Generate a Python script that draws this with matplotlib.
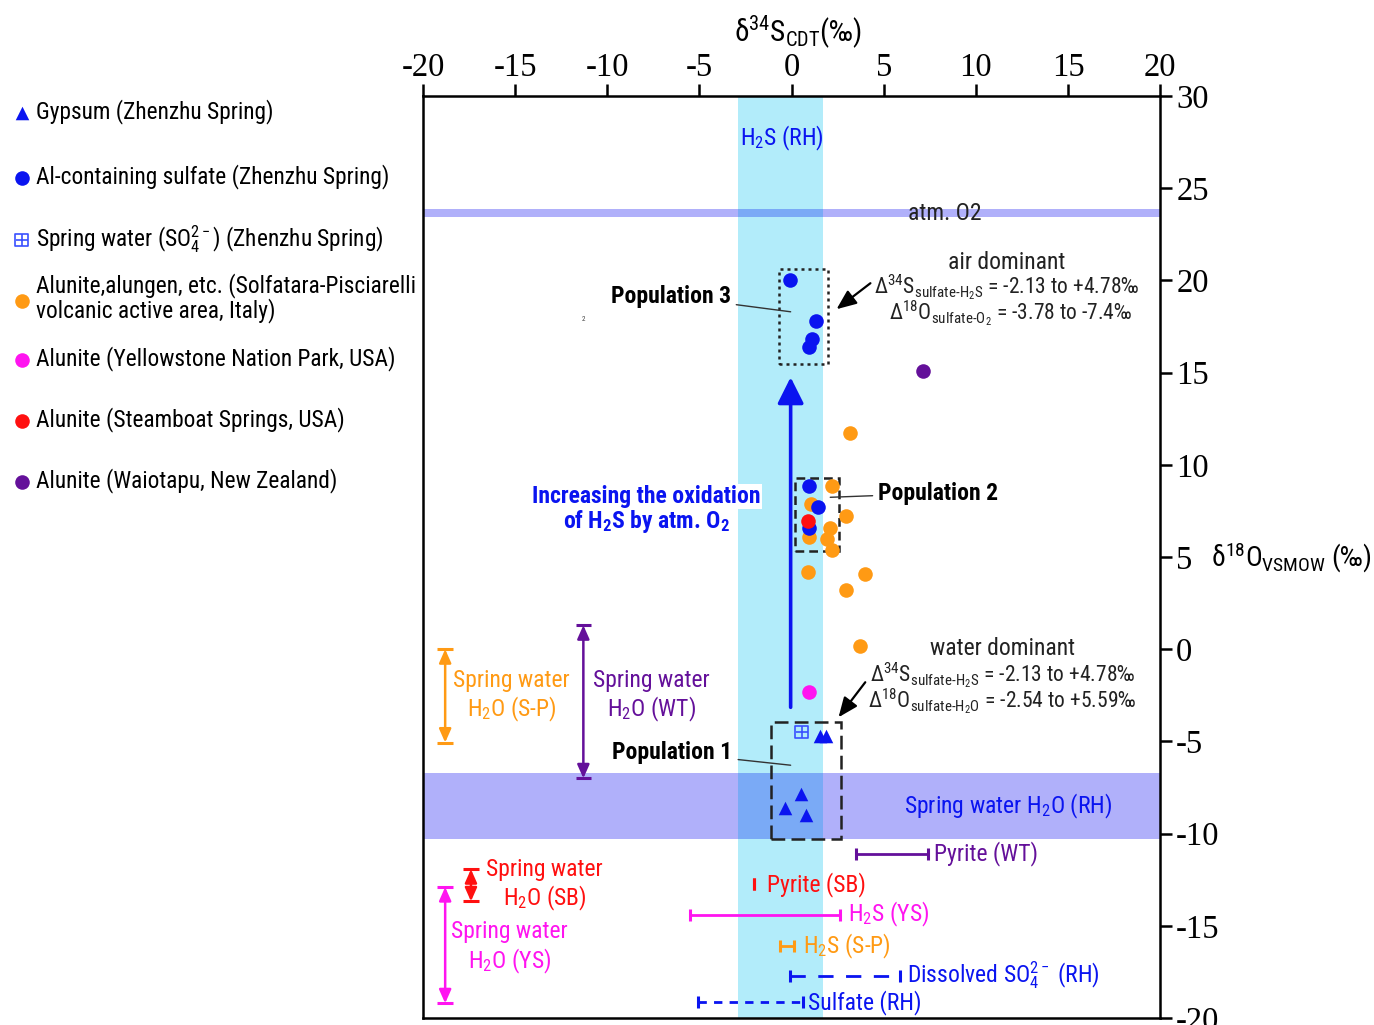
import matplotlib
matplotlib.use("Agg")
import matplotlib.pyplot as plt
import matplotlib.font_manager as fm
from matplotlib.patches import Rectangle, FancyArrowPatch
from matplotlib.legend_handler import HandlerTuple

_avail = {f.name for f in fm.fontManager.ttflist}
_cands = ['Liberation Sans Narrow', 'Arial Narrow', 'Roboto Condensed', 'PT Sans Narrow',
          'Archivo Narrow']
NARROW = next((c for c in _cands if c in _avail), None)
if NARROW is None:
    NARROW = 'Liberation Sans'
    K = 0.82
else:
    K = 1.0
SANS = [NARROW, 'DejaVu Sans']
SERIF = ['Liberation Serif', 'DejaVu Serif']
plt.rcParams['font.family'] = SANS
plt.rcParams['mathtext.fontset'] = 'custom'
plt.rcParams['mathtext.rm'] = NARROW
plt.rcParams['mathtext.it'] = NARROW + ':italic'
plt.rcParams['mathtext.bf'] = NARROW + ':bold'
plt.rcParams['axes.unicode_minus'] = False

# ---------------- data ----------------
BLUE = '#0a14f0'
ORANGE = '#ff9a14'
MAGENTA = '#ff14f0'
RED = '#ff1010'
PURPLE = '#64109a'
CYAN = '#b2ecfa'
LAV = '#b0b0fa'
OVER = '#7aaaf6'

gyp_x = [1.55, 1.85, 0.5, -0.33, 0.76]
gyp_y = [-4.7, -4.7, -7.83, -8.59, -8.98]

al_x = [-0.1, 1.3, 1.1, 0.95, 0.92, 1.46, 0.92]
al_y = [20.0, 17.8, 16.8, 16.4, 8.84, 7.7, 6.6]

sw_x = [0.55]
sw_y = [-4.5]

sp_x = [3.15, 2.22, 1.08, 2.98, 2.06, 1.95, 0.92, 2.22, 0.87, 3.96, 2.93, 3.74]
sp_y = [11.7, 8.84, 7.86, 7.2, 6.6, 6.0, 6.1, 5.4, 4.2, 4.1, 3.2, 0.16]

ys_x = [0.92]
ys_y = [-2.3]

sb_x = [0.87]
sb_y = [6.94]

wt_x = [7.15]
wt_y = [15.1]

legend_labels = [
    'Gypsum (Zhenzhu Spring)',
    'Al-containing sulfate (Zhenzhu Spring)',
    r'Spring water (SO$_4^{2-}$) (Zhenzhu Spring)',
    'Alunite,alungen, etc. (Solfatara-Pisciarelli\nvolcanic active area, Italy)',
    'Alunite (Yellowstone Nation Park, USA)',
    'Alunite (Steamboat Springs, USA)',
    'Alunite (Waiotapu, New Zealand)',
]
legend_rows_px = [112, 177, 239, 298, 359, 420, 481]   # vertical centres of legend rows

# bands
h2s_band = (-2.9, 1.7)          # x range, H2S (RH)
atm_band = (23.45, 23.9)        # y range, atm. O2
rh_water_band = (-10.3, -6.7)   # y range, Spring water H2O (RH)

# population boxes (x0, x1, y0, y1)
pop3_box = (-0.7, 2.0, 15.45, 20.6)
pop2_box = (0.16, 2.6, 5.31, 9.27)
pop1_box = (-1.14, 2.7, -10.3, -3.96)

# horizontal ranges (delta34S)
hr_labels = ['Pyrite (WT)', 'Pyrite (SB)', r'H$_2$S (YS)', r'H$_2$S (S-P)',
             r'Dissolved SO$_4^{2-}$ (RH)', 'Sulfate (RH)']
hr_lo = [3.5, -2.05, -5.5, -0.65, -0.1, -5.1]
hr_hi = [7.4, -2.05, 2.65, 0.15, 5.9, 0.6]
hr_y = [-11.1, -12.75, -14.4, -16.1, -17.7, -19.15]
hr_text_x = [7.75, -1.35, 3.05, 0.6, 6.25, 0.9]
hr_colors = [PURPLE, RED, MAGENTA, ORANGE, BLUE, BLUE]
hr_dash = [None, None, None, None, (0, (5.5, 4.5)), (0, (3.0, 2.6))]

# vertical ranges (delta18O of waters)
vr_labels = ['Spring water\nH$_2$O (S-P)', 'Spring water\nH$_2$O (WT)',
             'Spring water\nH$_2$O (SB)', 'Spring water\nH$_2$O (YS)']
vr_x = [-18.8, -11.3, -17.4, -18.8]
vr_lo = [-5.06, -7.0, -13.67, -19.2]
vr_hi = [0.0, 1.3, -11.93, -12.9]
vr_text = [(-15.2, -2.55), (-7.6, -2.55), (-13.4, -12.8), (-15.3, -16.2)]
vr_colors = [ORANGE, PURPLE, RED, MAGENTA]

xticks = [-20, -15, -10, -5, 0, 5, 10, 15, 20]
yticks = [30, 25, 20, 15, 10, 5, 0, -5, -10, -15, -20]

FS = 17 * K      # annotation text size
DFS = 15.5 * K   # delta equations
LFS = 16.8 * K   # legend text size
DK = '#222222'

# ---------------- figure ----------------
fig = plt.figure(figsize=(13.74, 10.25), dpi=100)
ax = fig.add_axes([0.3079, 0.0068, 0.5364, 0.8995])
ax.set_xlim(-20, 20)
ax.set_ylim(-20, 30)

# bands
ax.axvspan(*h2s_band, color=CYAN, lw=0, zorder=0)
ax.axhspan(*rh_water_band, color=LAV, lw=0, zorder=0.5)
ax.axhspan(*atm_band, color=LAV, lw=0, zorder=0.5)
ax.add_patch(Rectangle((h2s_band[0], rh_water_band[0]), h2s_band[1] - h2s_band[0],
                       rh_water_band[1] - rh_water_band[0], color=OVER, lw=0, zorder=0.6))
ax.add_patch(Rectangle((h2s_band[0], atm_band[0]), h2s_band[1] - h2s_band[0],
                       atm_band[1] - atm_band[0], color=OVER, lw=0, zorder=0.6))

# boxes
for (x0, x1, y0, y1), ls in [(pop3_box, (0, (1.2, 1.6))), (pop2_box, (0, (3.5, 2.0))),
                             (pop1_box, (0, (5.5, 2.5)))]:
    ax.add_patch(Rectangle((x0, y0), x1 - x0, y1 - y0, fill=False, ec=DK,
                           lw=1.8, ls=ls, zorder=2))

# big blue arrow
ax.add_patch(FancyArrowPatch((-0.05, -3.15), (-0.05, 14.75),
                             arrowstyle='-|>,head_length=0.8,head_width=0.4',
                             mutation_scale=20, color=BLUE, lw=2.6, zorder=2.5,
                             shrinkA=0, shrinkB=0))

# scatter points
ms = 110
h_sp = ax.scatter(sp_x, sp_y, s=ms, c=ORANGE, lw=0, zorder=3)
h_al = ax.scatter(al_x, al_y, s=ms, c=BLUE, lw=0, zorder=3.2)
h_sb = ax.scatter(sb_x, sb_y, s=ms, c=RED, lw=0, zorder=3.4)
h_ys = ax.scatter(ys_x, ys_y, s=ms, c=MAGENTA, lw=0, zorder=3)
h_wt = ax.scatter(wt_x, wt_y, s=ms, c=PURPLE, lw=0, zorder=3)
h_gy = ax.scatter(gyp_x, gyp_y, s=95, marker='^', c=BLUE, lw=0, zorder=3)
h_sw1 = ax.scatter(sw_x, sw_y, s=80, marker='s', facecolors='none', edgecolors='#3a50ff',
                   lw=1.2, zorder=3)
h_sw2 = ax.scatter(sw_x, sw_y, s=80, marker='+', c='#3a50ff', lw=1.2, zorder=3)

# horizontal ranges
for lo, hi, y, c, d, lab, tx in zip(hr_lo, hr_hi, hr_y, hr_colors, hr_dash, hr_labels, hr_text_x):
    if hi > lo:
        ax.plot([lo, hi], [y, y], color=c, lw=2.0, ls=d if d else '-', zorder=2)
    ax.vlines([lo, hi], y - 0.33, y + 0.33, color=c, lw=2.2, zorder=2)
    ax.text(tx, y, lab, color=c, fontsize=FS, ha='left', va='center', zorder=4)

# vertical ranges
for x, lo, hi, c, lab, (tx, ty) in zip(vr_x, vr_lo, vr_hi, vr_colors, vr_labels, vr_text):
    ax.add_patch(FancyArrowPatch((x, lo), (x, hi), arrowstyle='<|-|>,head_length=0.45,head_width=0.2',
                                 mutation_scale=18, color=c, lw=1.8, shrinkA=0, shrinkB=0, zorder=2))
    ax.hlines([lo, hi], x - 0.42, x + 0.42, color=c, lw=2.2, zorder=2)
    ax.text(tx, ty, lab, color=c, fontsize=FS, ha='center', va='center',
            linespacing=1.15, zorder=4)

# texts
ax.text(-0.54, 27.7, r'H$_2$S (RH)', color=BLUE, fontsize=FS, ha='center', va='center')
ax.text(8.3, 23.65, 'atm. O2', color=DK, fontsize=FS, ha='center', va='center', zorder=4)
ax.text(11.76, -8.5, r'Spring water H$_2$O (RH)', color=BLUE, fontsize=FS, ha='center',
        va='center', zorder=4)
ax.text(-7.86, 8.3, 'Increasing the oxidation', color=BLUE, fontsize=FS, fontweight='bold',
        ha='center', va='center', zorder=4,
        bbox=dict(boxstyle='square,pad=0.05', fc='white', ec='none'))
ax.text(-7.86, 6.94, r'of H$_\mathbf{2}$S by atm. O$_\mathbf{2}$', color=BLUE, fontsize=FS,
        fontweight='bold', ha='center', va='center', zorder=4)

ax.text(11.7, 21.0, 'air dominant', color=DK, fontsize=FS, ha='center', va='center')
ax.text(11.7, 19.65, r'Δ$^{34}$S$_{\mathrm{sulfate}\text{-}\mathrm{H_2S}}$ = -2.13 to +4.78‰',
        color=DK, fontsize=DFS, ha='center', va='center')
ax.text(11.9, 18.2, r'Δ$^{18}$O$_{\mathrm{sulfate}\text{-}\mathrm{O_2}}$ = -3.78 to -7.4‰',
        color=DK, fontsize=DFS, ha='center', va='center')
ax.text(11.45, 0.05, 'water dominant', color=DK, fontsize=FS, ha='center', va='center')
ax.text(11.45, -1.4, r'Δ$^{34}$S$_{\mathrm{sulfate}\text{-}\mathrm{H_2S}}$ = -2.13 to +4.78‰',
        color=DK, fontsize=DFS, ha='center', va='center')
ax.text(11.45, -2.8, r'Δ$^{18}$O$_{\mathrm{sulfate}\text{-}\mathrm{H_2O}}$ = -2.54 to +5.59‰',
        color=DK, fontsize=DFS, ha='center', va='center')

# population labels + leader lines
ax.annotate('Population 3', xy=(-0.05, 18.3), xytext=(-3.3, 19.15), fontsize=FS,
            fontweight='bold', ha='right', va='center',
            arrowprops=dict(arrowstyle='-', color='#333333', lw=1.0, shrinkA=2, shrinkB=0))
ax.annotate('Population 2', xy=(2.1, 8.24), xytext=(4.7, 8.46), fontsize=FS,
            fontweight='bold', ha='left', va='center',
            arrowprops=dict(arrowstyle='-', color='#333333', lw=1.0, shrinkA=2, shrinkB=0))
ax.annotate('Population 1', xy=(-0.05, -6.29), xytext=(-3.2, -5.6), fontsize=FS,
            fontweight='bold', ha='right', va='center',
            arrowprops=dict(arrowstyle='-', color='#333333', lw=1.0, shrinkA=2, shrinkB=0))

# black pointer arrows
ax.annotate('', xy=(2.44, 18.44), xytext=(4.28, 19.85),
            arrowprops=dict(arrowstyle='-|>,head_length=0.6,head_width=0.25', color='black',
                            lw=1.6, shrinkA=0, shrinkB=0, mutation_scale=20))
ax.annotate('', xy=(2.55, -3.69), xytext=(4.0, -1.79),
            arrowprops=dict(arrowstyle='-|>,head_length=0.6,head_width=0.25', color='black',
                            lw=1.6, shrinkA=0, shrinkB=0, mutation_scale=20))

# stray tiny mark
ax.text(-11.3, 17.9, '2', fontsize=5, color='#444444', ha='center', va='center')

# axes styling
ax.xaxis.tick_top()
ax.yaxis.tick_right()
ax.set_xticks(xticks)
ax.set_yticks(yticks)
ax.set_xticklabels([str(t) for t in xticks])
ax.set_yticklabels([str(t) for t in yticks])
ax.tick_params(direction='out', length=8.6, width=1.8, labelsize=23.5)
ax.tick_params(axis='x', pad=0.5)
ax.tick_params(axis='y', pad=3)
for lab in ax.get_xticklabels() + ax.get_yticklabels():
    lab.set_fontfamily(SERIF)
for sp in ax.spines.values():
    sp.set_linewidth(1.8)

fig.text(798 / 1374, 1 - 32 / 1025, r'δ$^{34}$S$_{\rm CDT}$(‰)', fontsize=21 * K,
         ha='center', va='center')
fig.text(1372 / 1374, 1 - 558 / 1025, r'δ$^{18}$O$_{\rm VSMOW}$ (‰)', fontsize=20 * K,
         ha='right', va='center')

# legend: one row per entry so row positions follow the reference
handles = [h_gy, h_al, (h_sw1, h_sw2), h_sp, h_ys, h_sb, h_wt]
for h, lab, ypx in zip(handles, legend_labels, legend_rows_px):
    lg = fig.legend([h], [lab], loc='center left', bbox_to_anchor=(0.0085, 1 - ypx / 1025),
                    frameon=False, fontsize=LFS, handlelength=0.85, handletextpad=0.2,
                    borderpad=0, borderaxespad=0, markerscale=1.0,
                    handler_map={tuple: HandlerTuple(ndivide=1)})
    for t in lg.get_texts():
        t.set_linespacing(1.05)

fig.savefig('out.png', dpi=100)
